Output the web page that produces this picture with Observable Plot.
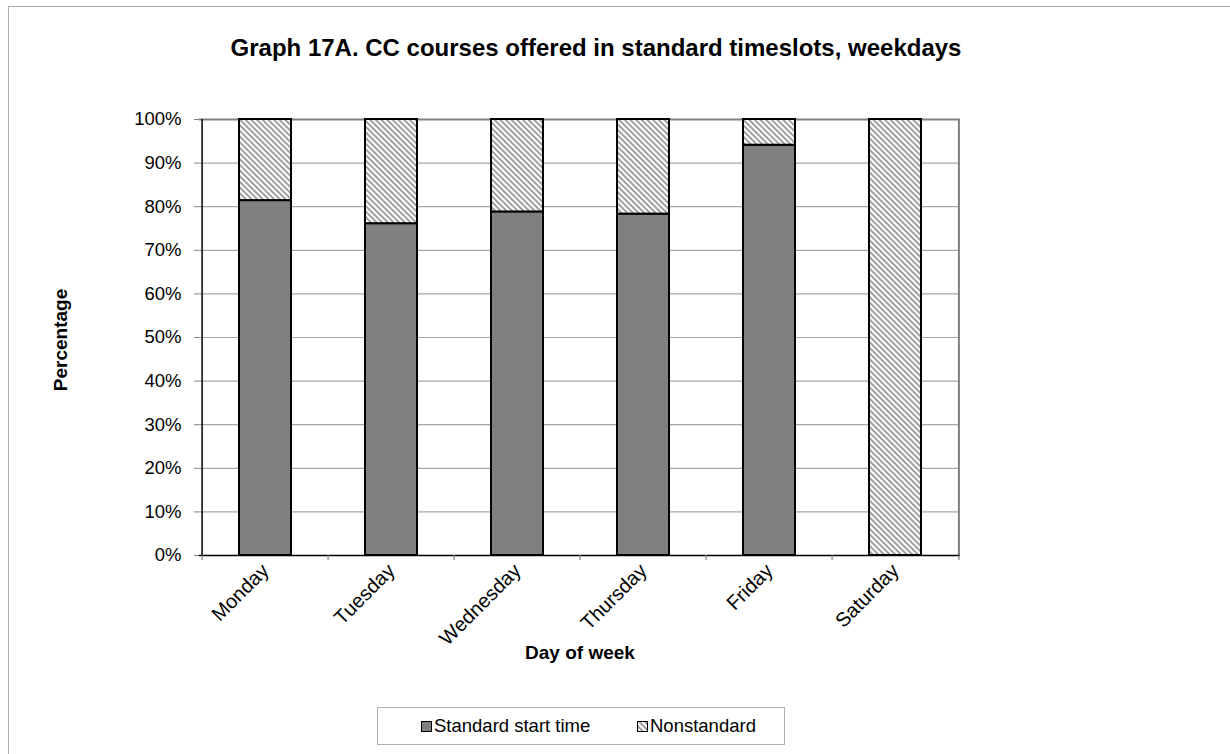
<!DOCTYPE html>
<html>
<head>
<meta charset="utf-8">
<script src="https://cdn.jsdelivr.net/npm/d3@7"></script>
<script src="https://cdn.jsdelivr.net/npm/@observablehq/plot@0.6"></script>
<style>
  html, body { margin: 0; padding: 0; background: #fff; }
  #wrap { position: relative; width: 1230px; height: 754px; overflow: hidden; font-family: Arial, "Liberation Sans", sans-serif; }
  #outer { position: absolute; left: 8px; top: 6px; width: 1400px; height: 1000px; border-left: 1.5px solid #b0b0b0; border-top: 1.5px solid #b0b0b0; }
  #chart { position: absolute; left: 0; top: 0; }
  .txt { position: absolute; white-space: nowrap; color: #000; line-height: 1; }
  #title { left: 596px; top: 36px; transform: translateX(-50%); font-size: 24px; font-weight: bold; }
  #ylab { left: 60px; top: 340px; transform: translate(-50%, -50%) rotate(-90deg); font-size: 19px; font-weight: bold; }
  #xlab { left: 580px; top: 643px; transform: translateX(-50%); font-size: 19px; font-weight: bold; }
  #legend { position: absolute; left: 377px; top: 707px; width: 408px; height: 38px; border: 1.5px solid #b0b0b0; box-sizing: border-box; }
  .sw { position: absolute; top: 13px; width: 9px; height: 9px; border: 1.5px solid #000; }
  .lt { position: absolute; top: 9px; font-size: 18.5px; line-height: 1; white-space: nowrap; }
</style>
</head>
<body>
<div id="wrap">
  <div id="outer"></div>
  <div id="chart"></div>
  <div class="txt" id="title">Graph 17A. CC courses offered in standard timeslots, weekdays</div>
  <div class="txt" id="ylab">Percentage</div>
  <div class="txt" id="xlab">Day of week</div>
  <div id="legend">
    <div class="sw" style="left:43px;background:#808080"></div>
    <div class="lt" id="lt1" style="left:56px"></div>
    <svg class="sw" style="left:259px;padding:0" width="9" height="9"><rect width="9" height="9" fill="url(#hatch)"/></svg>
    <div class="lt" id="lt2" style="left:272px"></div>
  </div>
</div>
<script>
// ---- data ----
const days = ["Monday", "Tuesday", "Wednesday", "Thursday", "Friday", "Saturday"];
const standardShare = [0.814, 0.761, 0.788, 0.783, 0.941, 0.0];
const nonstandardShare = [0.186, 0.239, 0.212, 0.217, 0.059, 1.0];
const seriesNames = ["Standard start time", "Nonstandard"];
const yTicks = [0, 0.1, 0.2, 0.3, 0.4, 0.5, 0.6, 0.7, 0.8, 0.9, 1.0];

const rows = days.map((d, i) => ({day: d, std: standardShare[i], non: nonstandardShare[i]}));

const W = 1230, H = 754;
const mL = 199, mR = 270, mT = 119, mB = 199;
const step = (W - mL - mR) / days.length;

const chart = Plot.plot({
  width: W,
  height: H,
  marginLeft: mL,
  marginRight: mR,
  marginTop: mT,
  marginBottom: mB,
  style: {fontFamily: 'Arial, "Liberation Sans", sans-serif', background: "transparent", overflow: "visible"},
  x: {domain: days, paddingInner: 0.59, paddingOuter: 0.295, label: null},
  y: {domain: [0, 1], label: null},
  marks: [
    Plot.gridY(yTicks, {stroke: "#a6a6a6", strokeOpacity: 1, strokeWidth: 1.2}),
    Plot.ruleY([1], {stroke: "#808080", strokeWidth: 2}),
    Plot.ruleX([days[days.length - 1]], {dx: step / 2, stroke: "#808080", strokeWidth: 2}),
    Plot.barY(rows.filter(r => r.std > 0), {x: "day", y1: 0, y2: "std", fill: "#808080", stroke: "#000", strokeWidth: 2}),
    Plot.barY(rows.filter(r => r.non > 0), {x: "day", y1: "std", y2: d => d.std + d.non, fill: "url(#hatch)", stroke: "#000", strokeWidth: 2}),
    Plot.ruleX([days[0]], {dx: -step / 2, stroke: "#000", strokeWidth: 1.5}),
    Plot.ruleY([0], {stroke: "#000", strokeWidth: 1.5}),
    Plot.ruleX(days, {dx: -step / 2, y1: 0, y2: 0, insetBottom: -5, stroke: "#808080", strokeWidth: 1.2}),
    Plot.ruleX([days[days.length - 1]], {dx: step / 2, y1: 0, y2: 0, insetBottom: -5, stroke: "#808080", strokeWidth: 1.2}),
    Plot.axisY(yTicks, {tickFormat: d3.format(".0%"), tickSize: 5, tickPadding: 13, fontSize: 18.5, stroke: "#808080", fill: "#000", label: null}),
    Plot.axisX({tickRotate: -45, tickSize: 0, tickPadding: 12, fontSize: 20, fill: "#000", label: null})
  ]
});

const ns = "http://www.w3.org/2000/svg";
const defs = document.createElementNS(ns, "defs");
defs.innerHTML = '<pattern id="hatch" patternUnits="userSpaceOnUse" width="4" height="4" patternTransform="rotate(-45)">' +
  '<rect width="4" height="4" fill="#ffffff"/><rect width="2" height="4" fill="#a0a0a0"/></pattern>';
chart.insertBefore(defs, chart.firstChild);
document.getElementById("chart").appendChild(chart);
document.getElementById("lt1").textContent = seriesNames[0];
document.getElementById("lt2").textContent = seriesNames[1];
</script>
</body>
</html>
